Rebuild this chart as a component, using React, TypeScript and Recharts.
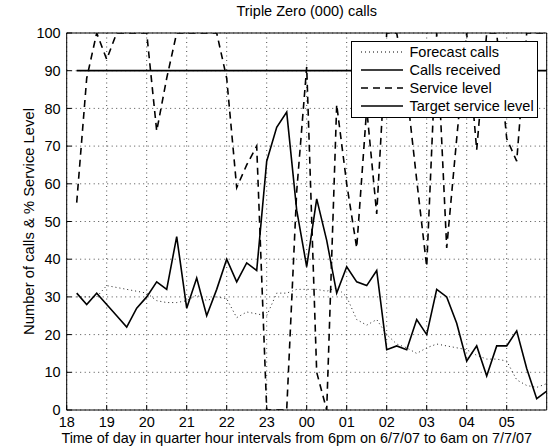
import React from "react";
import { LineChart, Line, XAxis, YAxis, CartesianGrid, Legend } from "recharts";

// x positions are quarter hours counted from 18:00
const hourLabels = ["18", "19", "20", "21", "22", "23", "00", "01", "02", "03", "04", "05"];
const hourTicks = [0, 4, 8, 12, 16, 20, 24, 28, 32, 36, 40, 44];
const yTicks = [0, 10, 20, 30, 40, 50, 60, 70, 80, 90, 100];

const forecastCalls = [
  30, 30, 30, 33, 32.5, 32, 31.5, 31, 29, 28.5, 28.5, 29, 30.5, 29, 30, 29.5,
  24.5, 26, 25.5, 25, 31, 31, 32, 32, 32, 31.5, 32.5, 30, 24, 22.5, 24, 20,
  17.5, 16.5, 15, 16.5, 17.5, 17, 16.5, 16, 14.5, 13.5, 13.5, 13, 8, 6.5, 6, 7,
];
const callsReceived = [
  31, 28, 31, 28, 25, 22, 27, 30, 34, 32, 46, 27, 35, 25, 32, 40,
  34, 39, 37, 66, 75, 79, 53, 38, 56, 45, 31, 38, 34, 33, 37, 16,
  17, 16, 24, 20, 32, 30, 23, 13, 17, 9, 17, 17, 21, 11, 3, 5,
];
const serviceLevel = [
  55, 88, 100, 93, 100, 100, 100, 100, 74, 88, 100, 100, 100, 100, 100, 88,
  59, 65, 70, 0, 0, 0, 58, 91, 10, 0, 81, 60, 43, 80, 52, 100,
  100, 85, 61, 38, 100, 43, 72, 100, 69, 100, 100, 72, 66, 100, 100, 100,
];
const targetServiceLevel = 90;
const seriesNames = ["Forecast calls", "Calls received", "Service level", "Target service level"];

const data = callsReceived.map((c, i) => ({
  q: i + 1,
  forecast: forecastCalls[i],
  calls: c,
  service: serviceLevel[i],
  target: targetServiceLevel,
}));

const FONT = '"Liberation Sans", Arial, Helvetica, sans-serif';
const legendDash = ["1 3", undefined, "7 5", undefined];

const LegendBox = () => (
  <div
    style={{
      width: 187,
      height: 77,
      boxSizing: "border-box",
      border: "1px solid #000",
      background: "#fff",
      paddingTop: 2,
      fontFamily: FONT,
      fontSize: 14.5,
      color: "#000",
    }}
  >
    {seriesNames.map((name, i) => (
      <div key={name} style={{ display: "flex", alignItems: "center", height: 17.9 }}>
        <svg width={58} height={10} style={{ flex: "none" }}>
          <line x1={9} y1={5} x2={51} y2={5} stroke="#000" strokeWidth={i === 0 ? 1 : 1.5} strokeDasharray={legendDash[i]} />
        </svg>
        <span style={{ whiteSpace: "nowrap" }}>{name}</span>
      </div>
    ))}
  </div>
);

export default function App() {
  return (
    <div style={{ position: "absolute", left: 0, top: 0, background: "#fff" }}>
      <LineChart width={556} height={448} data={data} margin={{ top: 32, right: 8.3, bottom: 0, left: 0 }}>
        <CartesianGrid xAxisId="b" yAxisId="l" stroke="#000" strokeOpacity={0.7} strokeDasharray="1 3.5" />
        <XAxis
          xAxisId="b"
          dataKey="q"
          type="number"
          domain={[0, 48]}
          ticks={hourTicks}
          interval={0}
          tickFormatter={(v: number) => hourLabels[v / 4]}
          tickSize={-5}
          tickMargin={12}
          height={38}
          stroke="#000"
          tick={{ fill: "#000", fontSize: 14.5, fontFamily: FONT }}
          label={{
            value: "Time of day in quarter hour intervals from 6pm on 6/7/07 to 6am on 7/7/07",
            position: "insideBottom",
            offset: 5,
            dx: -10,
            style: { fill: "#000", fontSize: 14.4, fontFamily: FONT },
          }}
        />
        <XAxis
          xAxisId="t"
          orientation="top"
          dataKey="q"
          type="number"
          domain={[0, 48]}
          ticks={hourTicks}
          interval={0}
          tick={false}
          tickSize={-5}
          height={1}
          stroke="#000"
          label={{
            value: "Triple Zero (000) calls",
            position: "top",
            offset: 16,
            style: { fill: "#000", fontSize: 14.5, fontFamily: FONT },
          }}
        />
        <YAxis
          yAxisId="l"
          domain={[0, 100]}
          ticks={yTicks}
          interval={0}
          allowDataOverflow
          tickSize={-5}
          tickMargin={11}
          width={66.7}
          stroke="#000"
          tick={{ fill: "#000", fontSize: 14.5, fontFamily: FONT }}
          label={{
            value: "Number of calls & % Service Level",
            angle: -90,
            position: "insideLeft",
            offset: 29,
            style: { textAnchor: "middle", fill: "#000", fontSize: 14.8, fontFamily: FONT },
          }}
        />
        <YAxis
          yAxisId="r"
          orientation="right"
          domain={[0, 100]}
          ticks={yTicks}
          interval={0}
          tick={false}
          tickSize={-5}
          width={1}
          stroke="#000"
        />
        <Line xAxisId="b" yAxisId="l" dataKey="forecast" name={seriesNames[0]} stroke="#222" strokeWidth={1} strokeDasharray="1 3" dot={false} activeDot={false} isAnimationActive={false} />
        <Line xAxisId="b" yAxisId="l" dataKey="calls" name={seriesNames[1]} stroke="#000" strokeWidth={1.6} dot={false} activeDot={false} isAnimationActive={false} />
        <Line xAxisId="b" yAxisId="l" dataKey="service" name={seriesNames[2]} stroke="#000" strokeWidth={1.6} strokeDasharray="7 5" dot={false} activeDot={false} isAnimationActive={false} />
        <Line xAxisId="b" yAxisId="l" dataKey="target" name={seriesNames[3]} stroke="#000" strokeWidth={1.8} dot={false} activeDot={false} isAnimationActive={false} />
        <Legend
          layout="vertical"
          align="center"
          verticalAlign="middle"
          content={() => <LegendBox />}
          wrapperStyle={{ left: 350.5, top: 40.5, width: 187, height: 77 }}
        />
      </LineChart>
    </div>
  );
}
